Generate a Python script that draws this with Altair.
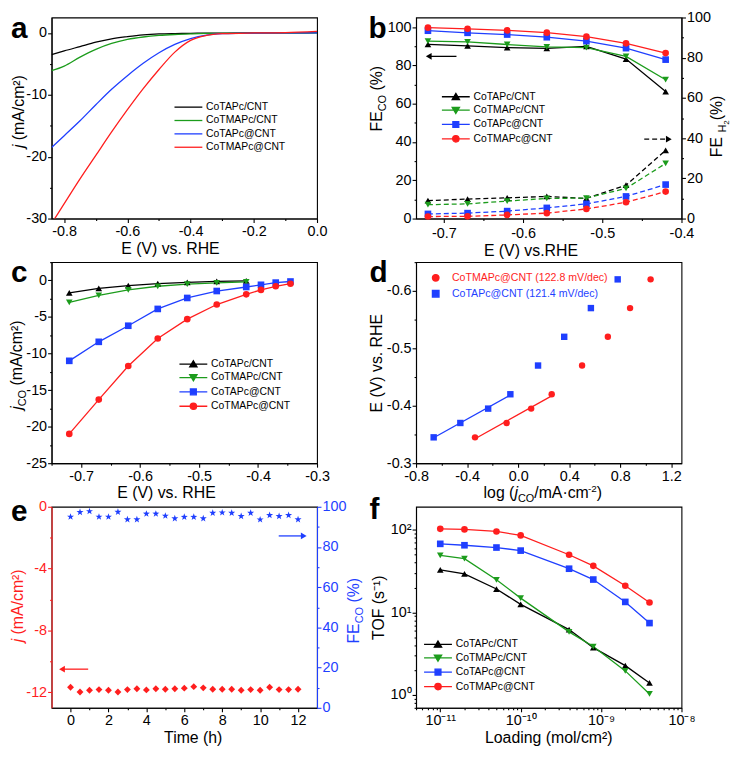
import math
import altair as alt
import pandas as pd

FONT = "Liberation Sans"
BLACK, GREEN, BLUE, RED = "#000000", "#1c9c1c", "#1f3fff", "#ff1e1e"

SERIES = ["CoTAPc/CNT", "CoTMAPc/CNT", "CoTAPc@CNT", "CoTMAPc@CNT"]
COLORS = [BLACK, GREEN, BLUE, RED]
SHAPES = ["triangle-up", "triangle-down", "square", "circle"]

# ---------------- panel a : LSV curves ----------------
A_E = [-0.84, -0.80, -0.75, -0.70, -0.65, -0.60, -0.55, -0.50, -0.45, -0.40, -0.35, -0.30, -0.20, -0.10, 0.0]
A_J = {
    "CoTAPc/CNT": [-3.5, -2.9, -2.2, -1.5, -0.95, -0.6, -0.32, -0.16, -0.09, -0.05, -0.03, -0.02, 0.0, 0.0, 0.05],
    "CoTMAPc/CNT": [-6.1, -5.35, -3.9, -2.65, -1.7, -1.05, -0.65, -0.4, -0.25, -0.15, -0.08, -0.05, -0.02, 0.0, 0.0],
    "CoTAPc@CNT": [-18.5, -16.6, -14.2, -11.6, -9.1, -6.9, -4.9, -3.2, -1.85, -0.9, -0.35, -0.12, -0.02, 0.0, 0.0],
    "CoTMAPc@CNT": [-30.8, -27.6, -23.6, -19.8, -16.0, -12.4, -9.0, -5.9, -3.1, -1.2, -0.4, -0.12, 0.0, 0.05, 0.25],
}

# ---------------- panel b : FE ----------------
B_E = [-0.72, -0.67, -0.62, -0.57, -0.52, -0.47, -0.42]
B_CO = {
    "CoTAPc/CNT": [91.0, 90.2, 89.3, 88.9, 89.9, 83.3, 66.3],
    "CoTMAPc/CNT": [92.7, 92.3, 90.9, 89.7, 89.3, 84.7, 72.5],
    "CoTAPc@CNT": [98.1, 97.0, 96.1, 94.7, 92.7, 89.0, 83.0],
    "CoTMAPc@CNT": [99.7, 99.1, 98.3, 97.1, 95.0, 91.5, 86.4],
}
B_H2 = {
    "CoTAPc/CNT": [8.9, 9.7, 10.3, 11.0, 10.0, 16.6, 33.9],
    "CoTMAPc/CNT": [6.9, 7.3, 8.7, 10.0, 10.2, 15.0, 27.4],
    "CoTAPc@CNT": [2.3, 2.7, 3.7, 5.3, 7.3, 11.0, 16.9],
    "CoTMAPc@CNT": [1.0, 1.1, 1.8, 2.7, 4.8, 8.1, 13.4],
}
B_ARROW_CO = {"x1": -0.684, "x2": -0.719, "y": 84.7}
B_ARROW_H2 = {"x1": -0.447, "x2": -0.416, "y": 39.5}

# ---------------- panel c : j_CO ----------------
C_E = {
    "CoTAPc/CNT": [-0.72, -0.67, -0.62, -0.57, -0.52, -0.47, -0.42],
    "CoTMAPc/CNT": [-0.72, -0.67, -0.62, -0.57, -0.52, -0.47, -0.42],
    "CoTAPc@CNT": [-0.72, -0.67, -0.62, -0.57, -0.52, -0.47, -0.42, -0.395, -0.37, -0.345],
    "CoTMAPc@CNT": [-0.72, -0.67, -0.62, -0.57, -0.52, -0.47, -0.42, -0.395, -0.37, -0.345],
}
C_J = {
    "CoTAPc/CNT": [-1.7, -1.1, -0.7, -0.45, -0.27, -0.13, -0.05],
    "CoTMAPc/CNT": [-3.0, -2.05, -1.3, -0.8, -0.5, -0.35, -0.2],
    "CoTAPc@CNT": [-11.0, -8.4, -6.2, -3.9, -2.4, -1.45, -0.9, -0.6, -0.3, -0.15],
    "CoTMAPc@CNT": [-21.0, -16.3, -11.7, -7.95, -5.3, -3.3, -1.9, -1.3, -0.8, -0.45],
}

# ---------------- panel d : Tafel ----------------
D_SERIES = ["CoTMAPc@CNT (122.8 mV/dec)", "CoTAPc@CNT (121.4 mV/dec)"]
D_E = [-0.345, -0.37, -0.395, -0.42, -0.47, -0.52, -0.57, -0.62]
D_LOGJ = {
    "CoTMAPc@CNT (122.8 mV/dec)": [-0.338, -0.090, 0.102, 0.263, 0.501, 0.703, 0.877, 1.038],
    "CoTAPc@CNT (121.4 mV/dec)": [-0.662, -0.453, -0.235, -0.061, 0.156, 0.361, 0.570, 0.780],
}

# ---------------- panel e : stability ----------------
E_T = [0, 0.5, 1, 1.5, 2, 2.5, 3, 3.5, 4, 4.5, 5, 5.5, 6, 6.5, 7, 7.5, 8, 8.5, 9, 9.5, 10, 10.5, 11, 11.5, 12]
E_J = [-11.67, -11.98, -11.86, -11.82, -11.86, -11.98, -11.82, -11.77, -11.84, -11.77, -11.80, -11.77, -11.73,
       -11.63, -11.71, -11.80, -11.80, -11.80, -11.86, -11.82, -11.86, -11.67, -11.82, -11.82, -11.80]
E_FE = [95.0, 97.3, 97.7, 95.0, 95.0, 97.4, 93.7, 93.7, 96.5, 96.5, 95.5, 94.2, 94.9, 94.9, 94.2, 96.9, 97.1,
        96.9, 95.3, 96.9, 93.6, 95.8, 95.3, 95.8, 93.7]
E_ARROW_J = {"x1": 0.93, "x2": -0.45, "y": -10.5}
E_ARROW_FE = {"x1": 10.98, "x2": 12.3, "y": 85.5}

# ---------------- panel f : TOF ----------------
F_LOAD = [1e-11, 2e-11, 5e-11, 1e-10, 4e-10, 8e-10, 2e-9, 4e-9]
F_TOF = {
    "CoTAPc/CNT": [32.8, 29.2, 19.2, 12.5, 6.2, 3.75, 2.27, 1.40],
    "CoTMAPc/CNT": [49.0, 44.8, 24.8, 14.9, 5.81, 3.86, 1.96, 1.03],
    "CoTAPc@CNT": [67.6, 65.0, 61.0, 56.0, 33.8, 25.0, 13.4, 7.43],
    "CoTMAPc@CNT": [102.8, 101.0, 95.5, 85.6, 49.9, 36.6, 21.0, 13.2],
}

PW, PH = 268, 203
XT = PH + 35.5  # baseline of x titles

# ---------------- helpers ----------------
W = {' ': .278, '(': .333, ')': .333, '%': .889, '/': .278, '\u00b7': .278, '\u00b2': .333, '-': .333, '.': .278,
     'a': .556, 'b': .556, 'c': .5, 'd': .556, 'e': .556, 'g': .556, 'h': .556, 'i': .222, 'j': .222, 'l': .222,
     'm': .833, 'n': .556, 'o': .556, 'r': .333, 's': .5, 't': .278, 'v': .5,
     'A': .667, 'C': .722, 'E': .667, 'F': .611, 'H': .722, 'L': .556, 'M': .833, 'N': .722, 'O': .778,
     'P': .667, 'R': .722, 'S': .667, 'T': .611, 'V': .667}


def tw(s, size):
    return sum(W.get(ch, 0.556) for ch in s) * size


ONE = alt.Data(values=[{"k": 1}])


def txt(text, x, y, size=16, italic=False, angle=0, color=BLACK, bold=False, align="left",
        baseline="alphabetic"):
    kw = dict(text=text, font=FONT, fontSize=size, align=align, baseline=baseline, color=color)
    if italic:
        kw["fontStyle"] = "italic"
    if bold:
        kw["fontWeight"] = "bold"
    if angle:
        kw["angle"] = angle
    return alt.Chart(ONE).mark_text(**kw).encode(x=alt.value(x), y=alt.value(y))


def _lead(text, size):
    n = len(text) - len(text.lstrip(" "))
    return tw(" " * n, size)


def rot_title(pieces, xb, yc, color=BLACK):
    total = sum(tw(p[0], p[1]) for p in pieces)
    y = yc + total / 2
    out = []
    for text, size, italic, shift in pieces:
        out.append(txt(text.strip(), xb + shift, y - _lead(text, size), size, italic, angle=270, color=color))
        y -= tw(text, size)
    return out


def hor_title(pieces, xc, yb, color=BLACK):
    total = sum(tw(p[0], p[1]) for p in pieces)
    x = xc - total / 2
    out = []
    for text, size, italic, shift in pieces:
        out.append(txt(text.strip(), x + _lead(text, size), yb + shift, size, italic, color=color))
        x += tw(text, size)
    return out


def letter(ch, x, base=20):
    # panel letter, bold 30px; 'base' is the wanted baseline below the plot top
    return txt(ch, x, base - 23.7, size=30, bold=True, baseline="top")


def lin_axis(lo, hi, step, major, orient, decimals=1, color=BLACK, **extra):
    n0 = math.ceil(lo / step - 1e-9)
    n1 = math.floor(hi / step + 1e-9)
    vals = [round(k * step, 6) for k in range(n0, n1 + 1)]
    test = f"abs(datum.value/{major} - round(datum.value/{major})) < 1e-6"
    lab = f"replace(format(datum.value, '.{decimals}f'), '\u2212', '-')"
    return alt.Axis(values=vals, orient=orient, title=None, labelExpr=f"({test}) ? {lab} : ''",
                    tickSize={"condition": {"test": test, "value": 4}, "value": 2},
                    domainColor=color, tickColor=color, labelColor=color, **extra)


SUP = {"-": "\u207b", "0": "\u2070", "1": "\u00b9", "2": "\u00b2", "3": "\u00b3", "4": "\u2074",
       "5": "\u2075", "6": "\u2076", "7": "\u2077", "8": "\u2078", "9": "\u2079"}


def log_axis(lo, hi, orient):
    vals = []
    for d in range(math.floor(math.log10(lo)), math.ceil(math.log10(hi)) + 1):
        for k in range(1, 10):
            v = float(f"{k}e{d}")
            if lo * (1 - 1e-9) <= v <= hi * (1 + 1e-9):
                vals.append(v)
    lg = "(log(datum.value)/LN10)"
    test = f"abs({lg} - round({lg})) < 1e-6"
    chain = ""
    for d in range(math.floor(math.log10(lo)), math.ceil(math.log10(hi)) + 1):
        s = "10" + "".join(SUP[c] for c in str(d))
        chain += f"abs({lg} - ({d})) < 1e-6 ? '{s}' : "
    chain += "''"
    return alt.Axis(values=vals, orient=orient, title=None, labelExpr=chain,
                    tickSize={"condition": {"test": test, "value": 4}, "value": 2})


def long_frame(xs_by, ys_by, xn, yn):
    rows = []
    for s in ys_by:
        xs = xs_by[s] if isinstance(xs_by, dict) else xs_by
        for x, y in zip(xs, ys_by[s]):
            rows.append({"series": s, xn: x, yn: y})
    return pd.DataFrame(rows)


color_sc = alt.Scale(domain=SERIES, range=COLORS)
shape_sc = alt.Scale(domain=SERIES, range=SHAPES)

LINE_PATH = "M-1,0H4.2"
MARKS = {
    "triangle-up": "M1.6,-0.62L2.28,0.52L0.92,0.52Z",
    "triangle-down": "M1.6,0.62L2.28,-0.52L0.92,-0.52Z",
    "square": "M1.05,-0.55H2.15V0.55H1.05Z",
    "circle": "M2.2,0A0.6,0.6,0,1,1,1,0A0.6,0.6,0,1,1,2.2,0Z",
}
LEG_SHAPES = [LINE_PATH + MARKS[s] for s in SHAPES]
STAR = ("M0,-1L0.235,-0.324L0.951,-0.309L0.38,0.124L0.588,0.809L0,0.4L-0.588,0.809"
        "L-0.38,0.124L-0.951,-0.309L-0.235,-0.324Z")


def leg(x, y, **extra):
    d = dict(orient="none", legendX=x, legendY=y, title=None, symbolSize=117, symbolStrokeWidth=1.3,
             symbolOpacity=1, labelFont=FONT, labelFontSize=10.5, labelColor=BLACK, labelOffset=20,
             rowPadding=1.5, padding=0, labelLimit=400)
    d.update(extra)
    return alt.Legend(**d)


def legend_layer(df, xf, yf, xax, yax, lx, ly):
    L = leg(lx, ly)
    return alt.Chart(df).mark_point(filled=True, opacity=0).encode(
        x=alt.X(xf, axis=xax), y=alt.Y(yf, axis=yax),
        color=alt.Color("series:N", scale=color_sc, legend=L),
        stroke=alt.Stroke("series:N", scale=color_sc, legend=L),
        shape=alt.Shape("series:N", scale=alt.Scale(domain=SERIES, range=LEG_SHAPES), legend=L),
    )


def arrow(d, left_head, color, xax, yax, dashed=False):
    df = pd.DataFrame([d])
    rk = dict(color=color, strokeWidth=1.3)
    if dashed:
        rk["strokeDash"] = [5, 3]
    rule = alt.Chart(df).mark_rule(**rk).encode(
        x=alt.X("x1:Q", axis=xax), x2="x2:Q", y=alt.Y("y:Q", axis=yax))
    head = alt.Chart(df).mark_point(shape="triangle-left" if left_head else "triangle-right",
                                    filled=True, opacity=1, size=45, color=color).encode(
        x=alt.X("x2:Q", axis=xax), y=alt.Y("y:Q", axis=yax))
    return [rule, head]


IND = dict(color="independent", shape="independent", stroke="independent")
LX = -41  # letter x for the left column
RT = PW + 41  # baseline x of right-hand rotated titles

# ---------------- panel a ----------------
dfa = long_frame(A_E, A_J, "E", "j")
lines_a = alt.Chart(dfa).mark_line(strokeWidth=1.3, clip=True, interpolate="monotone").encode(
    x=alt.X("E:Q", scale=alt.Scale(domain=[-0.84, 0.0], nice=False, zero=False),
            axis=lin_axis(-0.84, 0.0, 0.1, 0.2, "bottom")),
    y=alt.Y("j:Q", scale=alt.Scale(domain=[-30, 2.5], nice=False, zero=False),
            axis=lin_axis(-30, 2.5, 5, 10, "left", decimals=0)),
    color=alt.Color("series:N", scale=color_sc, legend=leg(123, 84, symbolType=LINE_PATH)),
)
pa = alt.layer(
    lines_a, letter("a", LX),
    *rot_title([("j", 16, True, 0), (" (mA/cm\u00b2)", 16, False, 0)], -28, 95),
    txt("E (V) vs. RHE", 120, XT, align="center"),
).properties(width=PW, height=PH)

# ---------------- panel b ----------------
dfb = pd.concat([long_frame(B_E, B_CO, "E", "co"), long_frame(B_E, B_H2, "E", "h2")["h2"]], axis=1)
ax_bx = lin_axis(-0.735, -0.4, 0.05, 0.1, "bottom", labelPadding=4)
ax_bl = lin_axis(0, 105, 10, 20, "left", decimals=0)
ax_br = lin_axis(0, 100, 10, 20, "right", decimals=0)
co_lines = alt.Chart(dfb).mark_line(strokeWidth=1.3).encode(
    x=alt.X("E:Q", scale=alt.Scale(domain=[-0.735, -0.4], nice=False, zero=False), axis=ax_bx),
    y=alt.Y("co:Q", scale=alt.Scale(domain=[0, 105], nice=False, zero=False), axis=ax_bl),
    color=alt.Color("series:N", scale=color_sc, legend=None))
co_pts = alt.Chart(dfb).mark_point(filled=True, opacity=1, size=45).encode(
    x=alt.X("E:Q", axis=ax_bx), y=alt.Y("co:Q", axis=ax_bl),
    color=alt.Color("series:N", scale=color_sc, legend=None),
    shape=alt.Shape("series:N", scale=shape_sc, legend=None))
left_b = alt.layer(
    alt.layer(co_lines, co_pts, *arrow(B_ARROW_CO, True, BLACK, ax_bx, ax_bl)),
    legend_layer(dfb, "E:Q", "co:Q", ax_bx, ax_bl, 25, 73.5),
).resolve_scale(**IND)
h2_lines = alt.Chart(dfb).mark_line(strokeWidth=1.3, strokeDash=[5, 3]).encode(
    x=alt.X("E:Q", axis=ax_bx),
    y=alt.Y("h2:Q", scale=alt.Scale(domain=[0, 100], nice=False, zero=False), axis=ax_br),
    color=alt.Color("series:N", scale=color_sc, legend=None))
h2_pts = alt.Chart(dfb).mark_point(filled=True, opacity=1, size=45).encode(
    x=alt.X("E:Q", axis=ax_bx), y=alt.Y("h2:Q", axis=ax_br),
    color=alt.Color("series:N", scale=color_sc, legend=None),
    shape=alt.Shape("series:N", scale=shape_sc, legend=None))
right_b = alt.layer(h2_lines, h2_pts, *arrow(B_ARROW_H2, False, BLACK, ax_bx, ax_br, dashed=True))
pb = alt.layer(
    left_b, right_b, letter("b", -48),
    *rot_title([("FE", 16, False, 0), ("CO", 11, False, 4), (" (%)", 16, False, 0)], -34, 82),
    *rot_title([("FE ", 16, False, 0), ("H", 11, False, 4), ("2", 8, False, 7), ("(%)", 16, False, 0)], RT, 110),
    txt("E (V) vs.RHE", 116, XT + 2, align="center"),
).resolve_scale(y="independent", **IND).properties(width=PW, height=PH)

# ---------------- panel c ----------------
dfc = long_frame(C_E, C_J, "E", "j")
ax_cx = lin_axis(-0.75, -0.3, 0.05, 0.1, "bottom")
ax_cy = lin_axis(-25, 2.5, 2.5, 5, "left", decimals=0)
lines_c = alt.Chart(dfc).mark_line(strokeWidth=1.3).encode(
    x=alt.X("E:Q", scale=alt.Scale(domain=[-0.75, -0.3], nice=False, zero=False), axis=ax_cx),
    y=alt.Y("j:Q", scale=alt.Scale(domain=[-25, 2.5], nice=False, zero=False), axis=ax_cy),
    color=alt.Color("series:N", scale=color_sc, legend=None))
pts_c = alt.Chart(dfc).mark_point(filled=True, opacity=1, size=45).encode(
    x=alt.X("E:Q", axis=ax_cx), y=alt.Y("j:Q", axis=ax_cy),
    color=alt.Color("series:N", scale=color_sc, legend=None),
    shape=alt.Shape("series:N", scale=shape_sc, legend=None))
pc = alt.layer(
    alt.layer(lines_c, pts_c), legend_layer(dfc, "E:Q", "j:Q", ax_cx, ax_cy, 128, 96.5),
    letter("c", LX),
    *rot_title([("j", 16, True, 0), ("CO", 11, False, 4), (" (mA/cm\u00b2)", 16, False, 0)], -30, 104),
    txt("E (V) vs. RHE", 116, XT, align="center"),
).resolve_scale(**IND).properties(width=PW, height=PH)

# ---------------- panel d ----------------
dfd = long_frame({s: D_LOGJ[s] for s in D_SERIES}, {s: D_E for s in D_SERIES}, "logj", "E")
d_color = alt.Scale(domain=D_SERIES, range=[RED, BLUE])
ax_dx = lin_axis(-0.8, 1.28, 0.2, 0.4, "bottom")
ax_dy = lin_axis(-0.65, -0.3, 0.05, 0.1, "left")
dleg = alt.Legend(orient="none", legendX=14.5, legendY=10.5, title=None, symbolSize=42, symbolOpacity=1,
                  labelFont=FONT, labelFontSize=10.7, labelOffset=11, rowPadding=3, padding=0, labelLimit=400,
                  labelColor={"expr": f"datum.value == '{D_SERIES[0]}' ? '{RED}' : '{BLUE}'"})
pts_d = alt.Chart(dfd).mark_point(filled=True, opacity=1, size=42).encode(
    x=alt.X("logj:Q", scale=alt.Scale(domain=[-0.8, 1.28], nice=False, zero=False), axis=ax_dx),
    y=alt.Y("E:Q", scale=alt.Scale(domain=[-0.65, -0.3], nice=False, zero=False, reverse=True), axis=ax_dy),
    color=alt.Color("series:N", scale=d_color, legend=dleg),
    shape=alt.Shape("series:N", scale=alt.Scale(domain=D_SERIES, range=["circle", "square"]), legend=dleg))
reg_d = alt.Chart(dfd).transform_filter(alt.datum.E >= -0.43).transform_regression(
    "logj", "E", groupby=["series"]).mark_line(strokeWidth=1.3).encode(
    x=alt.X("logj:Q", axis=ax_dx), y=alt.Y("E:Q", axis=ax_dy),
    color=alt.Color("series:N", scale=d_color, legend=None))
pd_ = alt.layer(
    pts_d, reg_d, letter("d", -47),
    *rot_title([("E (V) vs. RHE", 16, False, 0)], -34, 102),
    *hor_title([("log (", 16, False, 0), ("j", 16, True, 0), ("CO", 11, False, 4), ("/mA\u00b7cm", 16, False, 0),
                ("-2", 10, False, -6), (")", 16, False, 0)], 128, XT),
).properties(width=PW, height=PH)

# ---------------- panel e ----------------
dfe = pd.DataFrame({"t": E_T, "j": E_J, "fe": E_FE})
ax_ex = lin_axis(0, 12, 1, 2, "bottom", decimals=0)
ax_el = lin_axis(-13, 0, 2, 4, "left", decimals=0, color=RED)
ax_er = lin_axis(0, 100, 10, 20, "right", decimals=0, color=BLUE)
left_e = alt.layer(
    alt.Chart(dfe).mark_point(shape="diamond", filled=True, opacity=1, size=48, color=RED).encode(
        x=alt.X("t:Q", scale=alt.Scale(domain=[-1, 13], nice=False, zero=False), axis=ax_ex),
        y=alt.Y("j:Q", scale=alt.Scale(domain=[-13, 0], nice=False, zero=False), axis=ax_el)),
    *arrow(E_ARROW_J, True, RED, ax_ex, ax_el),
)
right_e = alt.layer(
    alt.Chart(dfe).mark_point(shape=STAR, filled=True, opacity=1, size=55, color=BLUE).encode(
        x=alt.X("t:Q", axis=ax_ex),
        y=alt.Y("fe:Q", scale=alt.Scale(domain=[0, 100], nice=False, zero=False), axis=ax_er)),
    *arrow(E_ARROW_FE, False, BLUE, ax_ex, ax_er),
)
pe = alt.layer(
    left_e, right_e, letter("e", LX, 14),
    *rot_title([("j", 16, True, 0), (" (mA/cm\u00b2)", 16, False, 0)], -29, 100, color=RED),
    *rot_title([("FE", 16, False, 0), ("CO", 11, False, 4), (" (%)", 16, False, 0)], PW + 42, 105, color=BLUE),
    txt("Time (h)", 143, XT, align="center"),
).resolve_scale(y="independent").properties(width=PW, height=PH)

# ---------------- panel f ----------------
dff = long_frame(F_LOAD, F_TOF, "load", "tof")
ax_fx = log_axis(5e-12, 1e-8, "bottom")
ax_fy = log_axis(0.7, 190, "left")
lines_f = alt.Chart(dff).mark_line(strokeWidth=1.3).encode(
    x=alt.X("load:Q", scale=alt.Scale(type="log", domain=[5e-12, 1e-8], nice=False), axis=ax_fx),
    y=alt.Y("tof:Q", scale=alt.Scale(type="log", domain=[0.7, 190], nice=False), axis=ax_fy),
    color=alt.Color("series:N", scale=color_sc, legend=None))
pts_f = alt.Chart(dff).mark_point(filled=True, opacity=1, size=45).encode(
    x=alt.X("load:Q", axis=ax_fx), y=alt.Y("tof:Q", axis=ax_fy),
    color=alt.Color("series:N", scale=color_sc, legend=None),
    shape=alt.Shape("series:N", scale=shape_sc, legend=None))
pf = alt.layer(
    alt.layer(lines_f, pts_f), legend_layer(dff, "load:Q", "tof:Q", ax_fx, ax_fy, 7, 132.5),
    letter("f", -47, 12),
    *rot_title([("TOF (s\u207b\u00b9)", 16, False, 0)], -32, 98),
    txt("Loading (mol/cm\u00b2)", 134, XT, align="center"),
).resolve_scale(**IND).properties(width=PW, height=PH)

chart = alt.concat(
    pa, pb, pc, pd_, pe, pf, columns=2, spacing={"row": 44, "column": 100}, bounds="flush"
).resolve_scale(**IND).properties(
    padding={"top": -3, "left": 0, "right": 0, "bottom": 0}
).configure(font=FONT).configure_view(stroke=BLACK, strokeWidth=1.1).configure_axis(
    grid=False, labelFont=FONT, labelFontSize=14.5, labelFlush=False, labelOverlap=False,
    domainWidth=1.1, tickWidth=1.1, domainColor=BLACK, tickColor=BLACK, labelColor=BLACK
).configure_axisX(labelPadding=2).configure_axisY(labelPadding=1)

chart.save("out.html", embed_options={"renderer": "svg", "actions": False})
